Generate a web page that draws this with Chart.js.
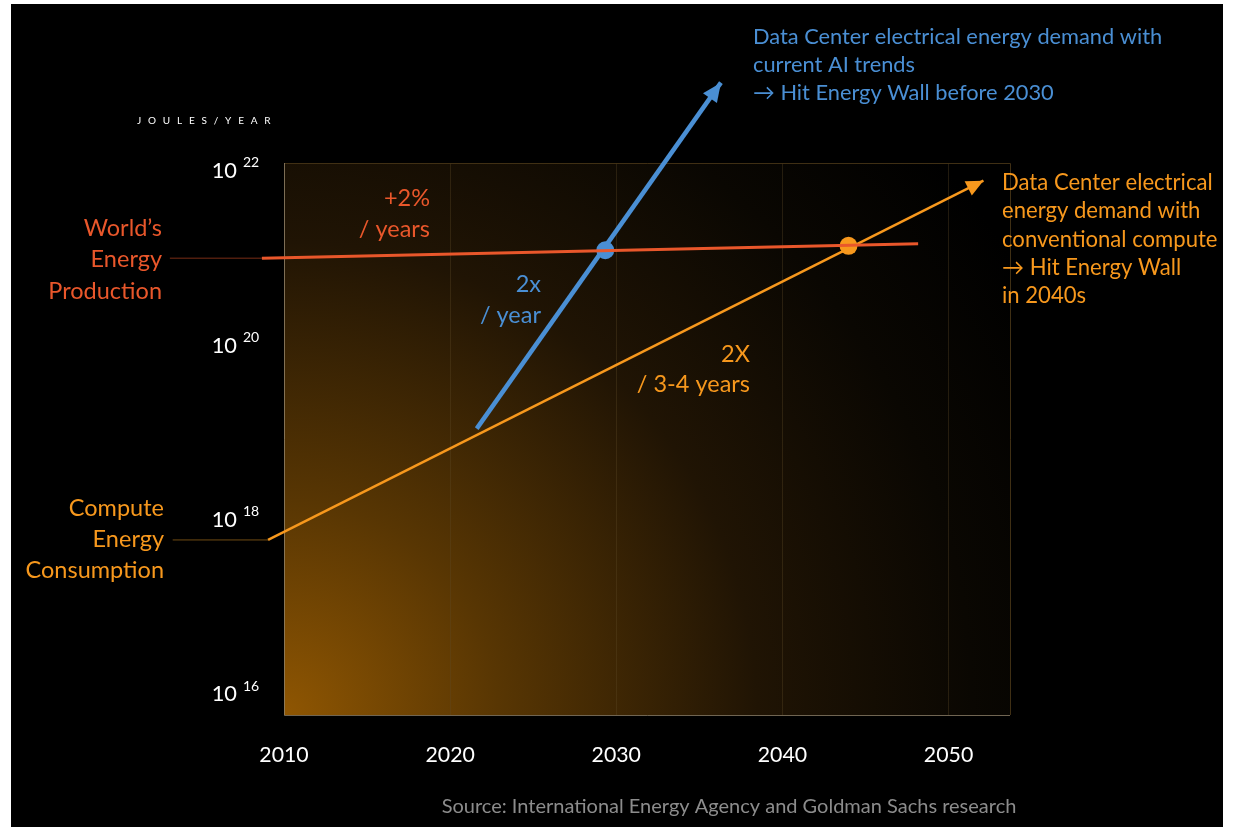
<!DOCTYPE html>
<html>
<head>
<meta charset="utf-8">
<script src="https://cdn.jsdelivr.net/npm/chart.js@4.4.1/dist/chart.umd.min.js"></script>
<style>
  html, body { margin: 0; padding: 0; background: #ffffff; }
  #wrap { position: absolute; left: 0; top: 0; width: 1234px; height: 827px; }
</style>
</head>
<body>
<div id="wrap"><canvas id="chart" width="1234" height="827"></canvas></div>
<script>
// Years on the horizontal axis
const xTicks = [2010, 2020, 2030, 2040, 2050];
// Decades on the log axis (joules / year)
const yTicks = [1e16, 1e18, 1e20, 1e22];
const yTickExponents = ['16', '18', '20', '22'];

// World energy production, +2% / year
const worldYears = [2008.67, 2048.17];
const worldJoules = [9.25e20, 1.35e21];

// Compute energy consumption, conventional compute (2x every 3-4 years)
const computeYears = [2009.04, 2052.1];
const computeJoules = [5.45e17, 7.15e21];

// Data center demand with current AI trends (2x / year)
const aiYears = [2021.6, 2036.3];
const aiJoules = [1.03e19, 9.5e22];

// Where each demand curve meets world production
const wallAiYear = [2029.34];
const wallAiJoules = [1.14e21];
const wallConvYear = [2043.98];
const wallConvJoules = [1.28e21];

// Leader lines from the side labels into the plot
const worldLeadYears = [2003.13, 2008.67];
const worldLeadJoules = [9.25e20, 9.25e20];
const computeLeadYears = [2003.3, 2009.04];
const computeLeadJoules = [5.45e17, 5.45e17];

const RED = '#E9572B';
const ORANGE = '#F7981D';
const BLUE = '#4A8FD4';
const FONT = 'Lato, "Open Sans", sans-serif';

const pts = (xs, ys) => xs.map((x, i) => ({ x, y: ys[i] }));

// Text blocks around the plot
const notes = [
  { lines: ["World\u2019s", 'Energy', 'Production'], x: 162, y: 228, dy: 31.5, align: 'right', color: RED, size: 23.5 },
  { lines: ['Compute', 'Energy', 'Consumption'], x: 164, y: 508, dy: 31, align: 'right', color: ORANGE, size: 23.5 },
  { lines: ['+2%', '/ years'], x: 430, y: 198, dy: 31, align: 'right', color: RED, size: 23.5 },
  { lines: ['2x', '/ year'], x: 541, y: 284, dy: 31, align: 'right', color: BLUE, size: 23.5 },
  { lines: ['2X', '/ 3-4 years'], x: 750, y: 354, dy: 30.5, align: 'right', color: ORANGE, size: 23.5 },
  { lines: ['Data Center electrical energy demand with', 'current AI trends', '\u2192 Hit Energy Wall before 2030'],
    x: 753, y: 37, dy: 28, align: 'left', color: BLUE, size: 21.8 },
  { lines: ['Data Center electrical', 'energy demand with', 'conventional compute', '\u2192 Hit Energy Wall', 'in 2040s'],
    x: 1002, y: 183, dy: 28.3, align: 'left', color: ORANGE, size: 22.1 },
  { lines: ['Source: International Energy Agency and Goldman Sachs research'],
    x: 729, y: 807, dy: 0, align: 'center', color: '#8c8c8c', size: 20 }
];

const backdrop = {
  id: 'backdrop',
  beforeDraw(chart) {
    const { ctx, chartArea: a } = chart;
    ctx.save();
    ctx.fillStyle = '#ffffff';
    ctx.fillRect(0, 0, chart.width, chart.height);
    ctx.fillStyle = '#000000';
    ctx.fillRect(11, 4, 1212, 823);
    const g = ctx.createRadialGradient(a.left, a.bottom, 0, a.left, a.bottom, 860);
    g.addColorStop(0, 'rgb(143,86,2)');
    g.addColorStop(0.25, 'rgb(88,54,3)');
    g.addColorStop(0.55, 'rgb(32,20,4)');
    g.addColorStop(0.8, 'rgb(10,7,2)');
    g.addColorStop(1, 'rgb(0,0,0)');
    ctx.fillStyle = g;
    ctx.fillRect(a.left, a.top, a.right - a.left, a.bottom - a.top);
    ctx.restore();
  },
  beforeDatasetsDraw(chart) {
    const { ctx, chartArea: a } = chart;
    ctx.save();
    ctx.lineWidth = 1;
    ctx.strokeStyle = 'rgba(70,52,22,0.9)';
    ctx.beginPath();
    ctx.moveTo(a.left, a.top + 0.5); ctx.lineTo(a.right + 0.5, a.top + 0.5); ctx.lineTo(a.right + 0.5, a.bottom);
    ctx.stroke();
    ctx.strokeStyle = 'rgba(150,135,110,0.75)';
    ctx.beginPath();
    ctx.moveTo(a.left + 0.5, a.top); ctx.lineTo(a.left + 0.5, a.bottom + 0.5); ctx.lineTo(a.right, a.bottom + 0.5);
    ctx.stroke();
    ctx.restore();
  },
  afterDatasetsDraw(chart) {
    const { ctx } = chart;
    // arrowheads at the end of the two demand curves
    [[1, 17, 8, ORANGE], [2, 19, 8.5, BLUE]].forEach(([idx, len, half, col]) => {
      const meta = chart.getDatasetMeta(idx);
      const p0 = meta.data[meta.data.length - 2], p1 = meta.data[meta.data.length - 1];
      const ang = Math.atan2(p1.y - p0.y, p1.x - p0.x);
      ctx.save();
      ctx.translate(p1.x, p1.y);
      ctx.rotate(ang);
      ctx.fillStyle = col;
      ctx.beginPath();
      ctx.moveTo(0, 0); ctx.lineTo(-len, -half); ctx.lineTo(-len, half); ctx.closePath();
      ctx.fill();
      ctx.restore();
    });
  },
  afterDraw(chart) {
    const { ctx } = chart;
    const ys = chart.scales.y;
    ctx.save();
    // y tick labels as powers of ten
    yTicks.forEach((v, i) => {
      const py = ys.getPixelForValue(v);
      ctx.fillStyle = '#ffffff';
      ctx.textBaseline = 'middle';
      ctx.textAlign = 'right';
      ctx.font = '21.8px ' + FONT;
      ctx.fillText('10', 237, py + 3);
      ctx.textAlign = 'left';
      ctx.font = '14px ' + FONT;
      ctx.fillText(yTickExponents[i], 243, py - 5);
    });
    // axis unit
    ctx.fillStyle = '#ffffff';
    ctx.font = '10px ' + FONT;
    ctx.textAlign = 'left';
    ctx.textBaseline = 'middle';
    ctx.letterSpacing = '6.8px';
    ctx.fillText('JOULES/YEAR', 137, 121);
    ctx.letterSpacing = '0px';
    notes.forEach(n => {
      ctx.fillStyle = n.color;
      ctx.font = n.size + 'px ' + FONT;
      ctx.textAlign = n.align;
      ctx.textBaseline = 'middle';
      n.lines.forEach((t, k) => ctx.fillText(t, n.x, n.y + k * n.dy));
    });
    ctx.restore();
  }
};

new Chart(document.getElementById('chart'), {
  type: 'scatter',
  data: {
    datasets: [
      { label: 'World energy production', data: pts(worldYears, worldJoules), showLine: true,
        borderColor: RED, borderWidth: 3, pointRadius: 0, clip: false },
      { label: 'Conventional compute', data: pts(computeYears, computeJoules), showLine: true,
        borderColor: ORANGE, borderWidth: 2.5, pointRadius: 0, clip: false },
      { label: 'Current AI trends', data: pts(aiYears, aiJoules), showLine: true,
        borderColor: BLUE, borderWidth: 4.5, pointRadius: 0, clip: false },
      { label: 'Wall (AI)', data: pts(wallAiYear, wallAiJoules), pointRadius: 9,
        backgroundColor: BLUE, borderWidth: 0, clip: false },
      { label: 'Wall (conventional)', data: pts(wallConvYear, wallConvJoules), pointRadius: 9,
        backgroundColor: ORANGE, borderWidth: 0, clip: false },
      { label: 'World lead', data: pts(worldLeadYears, worldLeadJoules), showLine: true,
        borderColor: 'rgba(160,60,30,0.75)', borderWidth: 1, pointRadius: 0, clip: false },
      { label: 'Compute lead', data: pts(computeLeadYears, computeLeadJoules), showLine: true,
        borderColor: 'rgba(150,100,25,0.75)', borderWidth: 1, pointRadius: 0, clip: false }
    ]
  },
  options: {
    responsive: false,
    animation: false,
    events: [],
    layout: { padding: { left: 284, right: 224, top: 163, bottom: 42 } },
    plugins: { legend: { display: false }, tooltip: { enabled: false } },
    scales: {
      x: {
        type: 'linear', min: 2010, max: 2053.7,
        afterBuildTicks: s => { s.ticks = xTicks.map(v => ({ value: v })); },
        afterFit: s => { s.height = 70; },
        border: { display: false },
        grid: { color: 'rgba(95,75,40,0.35)', lineWidth: 1, drawTicks: false },
        ticks: { color: '#ffffff', font: { family: FONT, size: 21.3 }, padding: 27, maxRotation: 0,
                 callback: v => String(v) }
      },
      y: {
        type: 'logarithmic', display: false,
        min: Math.pow(10, 15.73), max: Math.pow(10, 22.057)
      }
    }
  },
  plugins: [backdrop]
});
</script>
</body>
</html>
